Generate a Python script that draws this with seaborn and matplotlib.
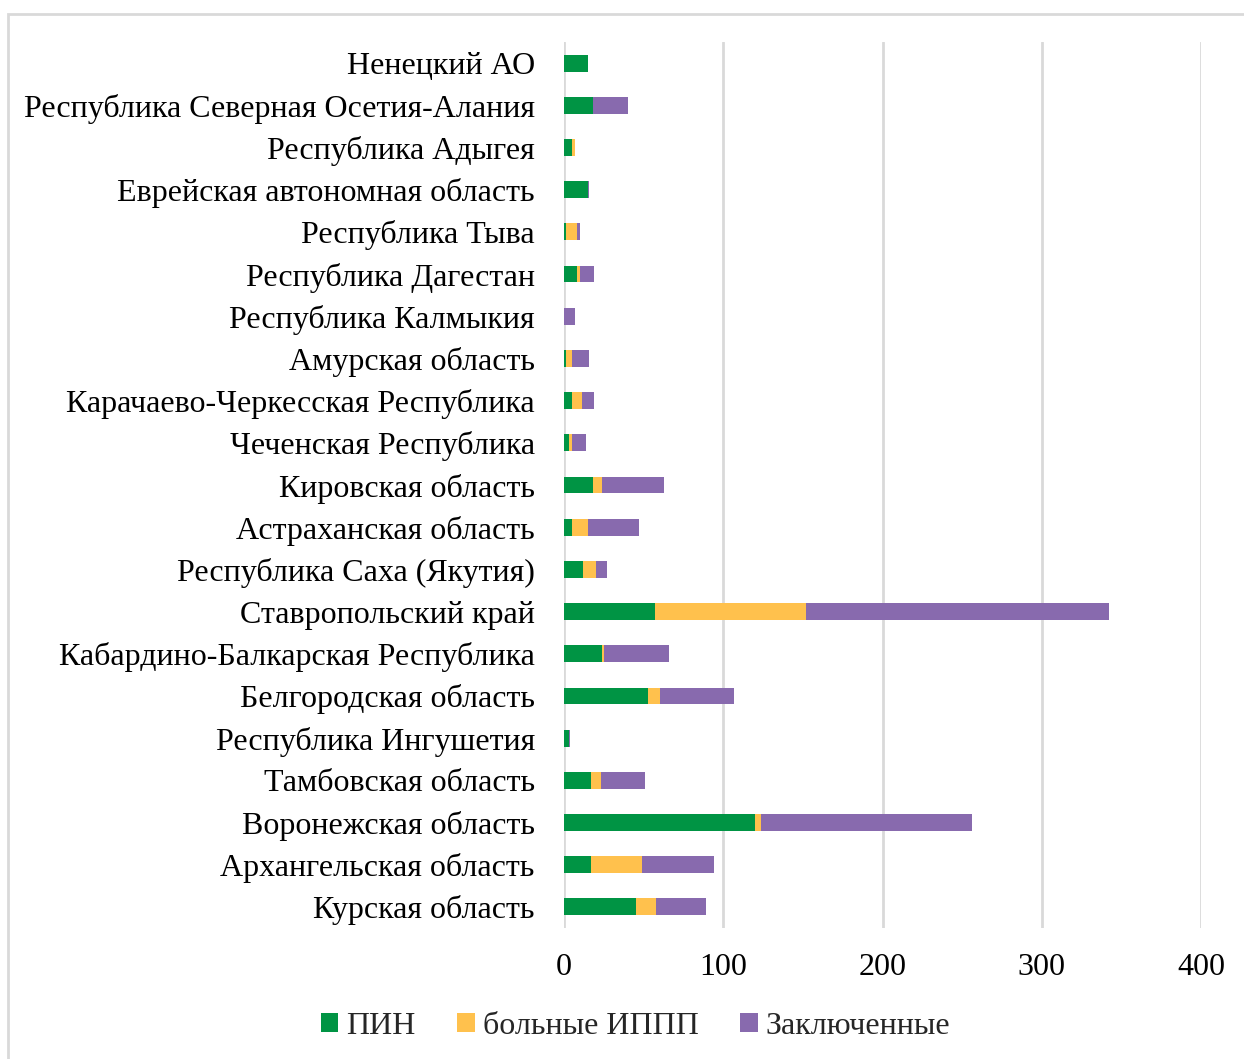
import matplotlib
matplotlib.use("Agg")
import matplotlib.pyplot as plt
from matplotlib.patches import Patch, Rectangle
import seaborn as sns
import pandas as pd

regions = [
    "Ненецкий АО",
    "Республика Северная Осетия-Алания",
    "Республика Адыгея",
    "Еврейская автономная область",
    "Республика Тыва",
    "Республика Дагестан",
    "Республика Калмыкия",
    "Амурская область",
    "Карачаево-Черкесская Республика",
    "Чеченская Республика",
    "Кировская область",
    "Астраханская область",
    "Республика Саха (Якутия)",
    "Ставропольский край",
    "Кабардино-Балкарская Республика",
    "Белгородская область",
    "Республика Ингушетия",
    "Тамбовская область",
    "Воронежская область",
    "Архангельская область",
    "Курская область",
]
pin = [15, 18, 5, 15, 1, 8, 0, 1, 5, 3, 18, 5, 12, 57, 24, 53, 3, 17, 120, 17, 45]
ippp = [0, 0, 2, 0, 7, 2, 0, 4, 6, 2, 6, 10, 8, 95, 1, 7, 0, 6, 4, 32, 13]
prisoners = [0, 22, 0, 1, 2, 9, 7, 11, 8, 9, 39, 32, 7, 190, 41, 47, 1, 28, 132, 45, 31]

series_names = ["ПИН", "больные ИППП", "Заключенные"]
colors = ["#009444", "#FFC14D", "#886AAE"]

df = pd.DataFrame({"region": regions, "pin": pin, "ippp": ippp, "prisoners": prisoners})
df["lvl1"] = df["pin"]
df["lvl2"] = df["pin"] + df["ippp"]
df["lvl3"] = df["pin"] + df["ippp"] + df["prisoners"]

sns.set_theme(style="white")
plt.rcParams["font.family"] = ["Liberation Serif", "DejaVu Serif"]
FS = 23

fig = plt.figure(figsize=(12.44, 10.59), dpi=100)
ax = fig.add_axes([564 / 1244, 1 - 928 / 1059, (1201 - 564) / 1244, (928 - 42) / 1059])

# stacked bars: draw cumulative totals, widest first
for col, c in zip(["lvl3", "lvl2", "lvl1"], colors[::-1]):
    sns.barplot(data=df, x=col, y="region", orient="h", color=c, width=0.4,
                saturation=1, ax=ax, linewidth=0, zorder=3)

ax.set_xlim(0, 400)
ax.set_ylim(len(regions) - 0.5, -0.5)
ax.set_xticks([0, 100, 200, 300, 400])
ax.grid(axis="x", color="#d9d9d9", linewidth=2, zorder=0)
ax.grid(axis="y", visible=False)
for s in ax.spines.values():
    s.set_visible(False)
ax.set_xlabel("")
ax.set_ylabel("")
ax.tick_params(axis="both", length=0, labelsize=FS, colors="black")
ax.tick_params(axis="x", pad=18)
ax.tick_params(axis="y", pad=21)

handles = [Patch(facecolor=c, edgecolor="none", label=n) for c, n in zip(colors, series_names)]
fig.legend(handles=handles, loc="center", bbox_to_anchor=(0.511, 1 - 1026 / 1059), ncol=3,
           frameon=False, fontsize=FS, handlelength=0.55, handleheight=0.55,
           handletextpad=0.25, columnspacing=1.3)

# chart frame
fig.patches.append(Rectangle((8 / 1244, -0.01), 1.1, 1 - 14 / 1059 + 0.01,
                             transform=fig.transFigure, fill=False,
                             edgecolor="#d9d9d9", linewidth=2))

fig.savefig("out.png", dpi=100, facecolor="white")
